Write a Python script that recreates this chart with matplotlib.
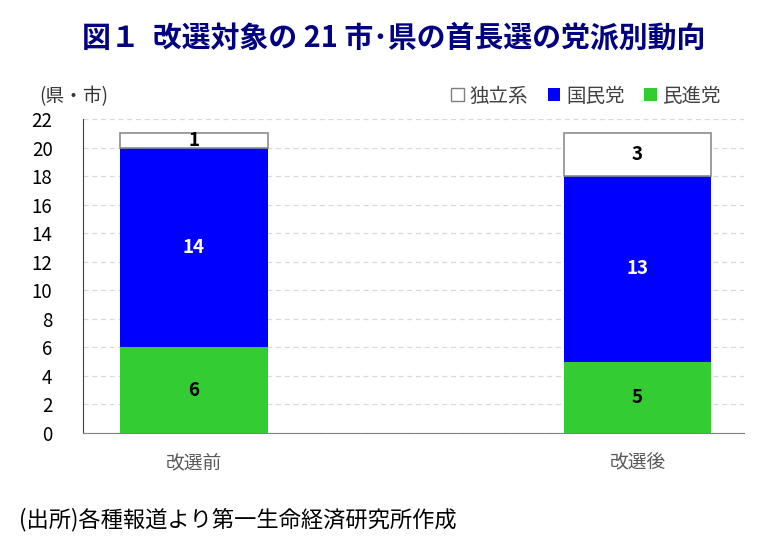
import matplotlib.pyplot as plt
from matplotlib.patches import Patch

plt.rcParams['font.family'] = ['Noto Sans CJK JP', 'DejaVu Sans']

# data
categories = ['改選前', '改選後']
minshin = [6, 5]      # 民進党
kokumin = [14, 13]    # 国民党
dokuritsu = [1, 3]    # 独立系

fig = plt.figure(figsize=(7.79, 5.41), dpi=100)
ax = fig.add_axes([0.1066, 0.1996, 0.849, 0.5804])

x = range(len(categories))
w = 0.333
b1 = ax.bar(x, minshin, w, color='#33cc33', zorder=3)
bottom2 = minshin
b2 = ax.bar(x, kokumin, w, bottom=bottom2, color='#0000ff', zorder=3)
bottom3 = [a + b for a, b in zip(minshin, kokumin)]
b3 = ax.bar(x, dokuritsu, w, bottom=bottom3, color='white', edgecolor='#8c8c8c',
            linewidth=1.2, zorder=3)

for i in x:
    ax.text(i, minshin[i] / 2, str(minshin[i]), ha='center', va='center',
            fontsize=13.5, fontweight='bold', color='black', zorder=4)
    ax.text(i, minshin[i] + kokumin[i] / 2, str(kokumin[i]), ha='center', va='center',
            fontsize=13.5, fontweight='bold', color='white', zorder=4)
    ax.text(i, bottom3[i] + dokuritsu[i] / 2, str(dokuritsu[i]), ha='center', va='center',
            fontsize=13.5, fontweight='bold', color='black', zorder=4)

ax.set_xlim(-0.25, 1.241)
ax.set_ylim(0, 22)
ax.set_yticks(range(0, 23, 2))
ax.set_xticks(list(x))
ax.set_xticklabels(categories, fontsize=13.5, color='#595959')
ax.tick_params(axis='y', labelsize=13.5, length=0, pad=22)
ax.tick_params(axis='x', length=0, pad=14)
ax.grid(axis='y', linestyle=(0, (4, 3)), color='#d9d9d9', linewidth=0.9, zorder=0)
for s in ['top', 'right']:
    ax.spines[s].set_visible(False)
ax.spines['left'].set_color('#404040')
ax.spines['bottom'].set_color('#808080')

fig.text(0.505, 0.93, '図１  改選対象の 21 市･県の首長選の党派別動向', ha='center', va='center',
         fontsize=20.8, fontweight='bold', color='#000080')
fig.text(0.05, 0.822, '(県・市)', ha='left', va='center', fontsize=13.5, color='#333333')
fig.text(0.024, 0.04, '(出所)各種報道より第一生命経済研究所作成', ha='left', va='center',
         fontsize=16, color='black')

handles = [Patch(facecolor='white', edgecolor='#7f7f7f', label='独立系'),
           Patch(facecolor='#0000ff', label='国民党'),
           Patch(facecolor='#33cc33', label='民進党')]
fig.legend(handles=handles, loc='center right', bbox_to_anchor=(0.948, 0.822), ncol=3,
           frameon=False, fontsize=14, handlelength=0.65, handleheight=0.65,
           handletextpad=0.3, columnspacing=1.0, labelcolor='#404040')

fig.savefig('out.png', dpi=100)
